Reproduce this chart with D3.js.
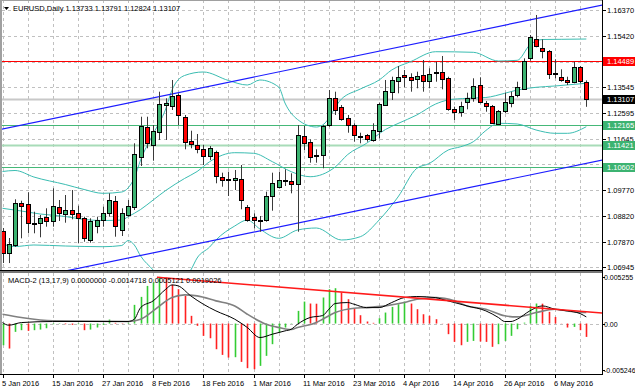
<!DOCTYPE html>
<html>
<head>
<meta charset="utf-8">
<script src="https://cdn.jsdelivr.net/npm/d3@7"></script>
<style>
  body { margin: 0; background: #fff; }
  svg { display: block; font-family: "Liberation Sans", Arial, sans-serif; font-size: 7.5px; }
</style>
</head>
<body>
<svg id="chart" width="635" height="391"></svg>
<script>
// EURUSD daily candles, bar 0 = 5 Jan 2016, bar 93 = 13 May 2016
const open  = [1.08285,1.07480,1.07762,1.09311,1.09252,1.08556,1.08556,1.08776,1.08652,1.09154,
  1.08897,1.09044,1.08923,1.08740,1.07945,1.08469,1.08652,1.08923,1.09373,1.08311,
  1.08861,1.09165,1.10996,1.12095,1.11425,1.11912,1.12890,1.12864,1.13256,1.12461,
  1.11571,1.11425,1.11267,1.10996,1.11157,1.10263,1.10168,1.10143,1.10168,1.09165,
  1.08776,1.08677,1.08677,1.09531,1.09897,1.10117,1.10106,1.09996,1.11765,1.11545,
  1.11033,1.11058,1.12157,1.13135,1.12806,1.12403,1.12157,1.11765,1.11791,1.11608,
  1.11948,1.12890,1.13377,1.13780,1.13978,1.13926,1.13853,1.13989,1.13780,1.14110,
  1.14110,1.13868,1.12743,1.12644,1.13011,1.13135,1.13622,1.12974,1.12853,1.12194,
  1.12644,1.12974,1.13256,1.13502,1.14600,1.15296,1.14989,1.14868,1.14051,1.13926,
  1.13806,1.13721,1.14271,1.13733];
const high  = [1.08384,1.08018,1.09436,1.09384,1.09692,1.08981,1.08861,1.09106,1.09839,1.09410,
  1.09593,1.09776,1.09201,1.08798,1.08740,1.08798,1.09165,1.09655,1.09557,1.09106,
  1.09410,1.11487,1.12461,1.12461,1.12157,1.13377,1.13135,1.13806,1.13318,1.12524,
  1.11948,1.11828,1.11425,1.11388,1.11216,1.10410,1.10447,1.10509,1.10692,1.09227,
  1.08923,1.08824,1.09714,1.10410,1.10447,1.10535,1.10388,1.12157,1.12121,1.11633,
  1.11267,1.12157,1.13439,1.13377,1.12890,1.12524,1.12220,1.11875,1.11828,1.12220,
  1.12974,1.13806,1.13926,1.14318,1.14172,1.14051,1.14110,1.14538,1.14234,1.14476,
  1.14685,1.13926,1.12828,1.13011,1.13340,1.13868,1.13905,1.13036,1.12890,1.12707,
  1.13340,1.13377,1.13743,1.14600,1.15454,1.16187,1.15296,1.14904,1.14564,1.14198,
  1.13926,1.14476,1.14318,1.13791];
const low   = [1.07102,1.07100,1.07688,1.08007,1.08190,1.08190,1.08044,1.08432,1.08432,1.08641,
  1.08579,1.08703,1.07824,1.07883,1.07846,1.08190,1.08432,1.08798,1.08066,1.08091,
  1.08798,1.09044,1.10655,1.11304,1.10850,1.11608,1.11608,1.12707,1.12157,1.11267,
  1.11304,1.11121,1.10692,1.10875,1.10022,1.09897,1.09557,1.09776,1.09069,1.08615,
  1.08373,1.08249,1.08615,1.09018,1.09839,1.09923,1.09655,1.08249,1.11241,1.10776,
  1.10776,1.10571,1.12095,1.12524,1.12315,1.11875,1.11545,1.11487,1.11545,1.11545,
  1.11670,1.12853,1.13073,1.13318,1.13538,1.13377,1.13502,1.13377,1.13502,1.13743,
  1.13465,1.12681,1.12340,1.12461,1.12732,1.13011,1.12952,1.12644,1.12194,1.12157,
  1.12586,1.12806,1.13172,1.13465,1.14513,1.15003,1.14600,1.13842,1.13868,1.13743,
  1.13622,1.13685,1.13685,1.12824];
const close = [1.07480,1.07798,1.09289,1.09201,1.08556,1.08568,1.08740,1.08615,1.09190,1.08923,
  1.09044,1.08897,1.08740,1.08007,1.08652,1.08677,1.08923,1.09410,1.08458,1.08923,
  1.09201,1.11095,1.12121,1.11509,1.11948,1.12926,1.12974,1.13220,1.12524,1.11545,
  1.11461,1.11289,1.11022,1.11304,1.10289,1.10168,1.10160,1.10205,1.09410,1.08703,
  1.08677,1.08660,1.09567,1.10022,1.10143,1.10130,1.09996,1.11791,1.11524,1.10996,
  1.11058,1.12121,1.13135,1.12681,1.12366,1.12157,1.11791,1.11750,1.11633,1.11974,
  1.12926,1.13414,1.13806,1.13926,1.13890,1.13831,1.13963,1.13780,1.14025,1.14100,
  1.13868,1.12732,1.12622,1.12853,1.13157,1.13586,1.12989,1.12853,1.12220,1.12670,
  1.12989,1.13220,1.13538,1.14513,1.15370,1.15025,1.14868,1.14025,1.14040,1.13831,
  1.13721,1.14271,1.13743,1.13107];

// Bollinger bands: [bar, price]
const bbUpper = [[0,1.10454],[2,1.10491],[5,1.10252],[10,1.09978],[13,1.09795],[16,1.09655],[19,1.09703],
  [20,1.09850],[21,1.10216],[22,1.10875],[24,1.11828],[26,1.12743],[27,1.13439],[29,1.13970],[32,1.14099],
  [36,1.13787],[39,1.13622],[41,1.13806],[44,1.13549],[45,1.12963],[47,1.12359],[50,1.12084],[51,1.12157],
  [54,1.13110],[57,1.13476],[60,1.13806],[62,1.14172],[65,1.14476],[69,1.14842],[75,1.14820],[79,1.14502],
  [82,1.14527],[84,1.15088],[86,1.15289],[89,1.15296],[93,1.15307]];
const bbMiddle = [[0,1.09106],[3,1.09007],[6,1.08897],[10,1.08806],[13,1.08696],[16,1.08659],[19,1.08677],
  [20,1.08798],[22,1.09062],[24,1.09410],[26,1.09758],[29,1.10198],[31,1.10454],[33,1.10813],[37,1.11143],
  [40,1.11121],[43,1.10813],[46,1.10447],[49,1.10263],[53,1.10619],[55,1.11077],[58,1.11487],[61,1.11992],
  [63,1.12212],[66,1.12524],[69,1.12926],[71,1.13073],[74,1.13135],[77,1.13165],[80,1.13318],[82,1.13439],
  [85,1.13538],[88,1.13586],[93,1.13685]];
const bbLower = [[0,1.07798],[2,1.07707],[5,1.07762],[10,1.07725],[16,1.07699],[19,1.07743],[20,1.07926],
  [21,1.07762],[22,1.07359],[24,1.06846],[26,1.06296],[28,1.06406],[30,1.06846],[31,1.07285],[33,1.07688],
  [34,1.07945],[37,1.08458],[39,1.08677],[41,1.08348],[44,1.08007],[47,1.08311],[50,1.08384],[54,1.07945],
  [57,1.08066],[60,1.08677],[63,1.09520],[66,1.10571],[68,1.10747],[71,1.11241],[73,1.11362],[75,1.11545],
  [77,1.11956],[79,1.12220],[82,1.12194],[85,1.11974],[88,1.11853],[90,1.11853],[93,1.12095]];

// regression channel borders: [bar, price]
const channelUpper = [[-1,1.11963],[96,1.16575]];
const channelLower = [[-1,1.06285],[96,1.10897]];

// horizontal levels
const redLevel = 1.14489;
const greenLevels = [1.12165, 1.10602];
const paleLevel = 1.11421;
const lastPrice = 1.13107;

const priceTicks = [1.16370,1.15420,1.14470,1.13545,1.12595,1.11645,1.10720,1.09770,1.08820,1.07870,1.06945];
const dateLabels = ["5 Jan 2016","15 Jan 2016","27 Jan 2016","8 Feb 2016","18 Feb 2016","1 Mar 2016",
  "11 Mar 2016","23 Mar 2016","4 Apr 2016","14 Apr 2016","26 Apr 2016","6 May 2016"];
const dateBars = [0,8,16,24,32,40,48,56,64,72,80,88];

// MACD-2 (13,17,9)
const macdHist = [-0.00245,-0.00282,-0.00094,-0.00075,-0.00083,-0.00075,-0.00068,-0.00053,-0.00008,-0.00004,
  -0.00008,-0.00015,-0.00008,-0.00075,-0.00068,-0.00045,-0.00015,0.00045,0.00008,0.00004,
  0.00008,0.00211,0.00301,0.00425,0.00463,0.00527,0.00519,0.00437,0.00388,0.00312,
  0.00087,-0.00026,-0.00139,-0.00166,-0.00290,-0.00354,-0.00384,-0.00380,-0.00433,-0.00504,
  -0.00516,-0.00478,-0.00365,-0.00233,-0.00102,-0.00045,-0.00004,0.00143,0.00248,0.00226,
  0.00224,0.00294,0.00388,0.00399,0.00350,0.00275,0.00173,0.00094,0.00023,0.00008,
  0.00060,0.00124,0.00188,0.00218,0.00248,0.00226,0.00162,0.00105,0.00087,0.00049,
  0.00002,-0.00120,-0.00207,-0.00245,-0.00207,-0.00196,-0.00203,-0.00207,-0.00263,-0.00233,
  -0.00196,-0.00139,-0.00064,0.00010,0.00199,0.00226,0.00224,0.00132,0.00075,0.00002,
  -0.00045,-0.00038,-0.00075,-0.00151];
const macdMain = [[0,0.00011],[1,-0.00019],[3,0.00011],[8,0.00023],[20,0.00023],[21,0.00049],[22,0.00180],
  [24,0.00256],[26,0.00387],[27,0.00436],[28,0.00425],[30,0.00312],[32,0.00218],[34,0.00143],[37,0.00049],
  [39,-0.00045],[41,-0.00158],[43,-0.00120],[45,-0.00083],[46,-0.00064],[47,-0.00008],[49,0.00068],
  [51,0.00090],[52,0.00162],[53,0.00226],[55,0.00237],[56,0.00218],[58,0.00180],[60,0.00180],[62,0.00237],
  [64,0.00293],[66,0.00305],[69,0.00293],[70,0.00274],[72,0.00237],[74,0.00199],[77,0.00143],[79,0.00068],
  [80,0.00023],[81,0.00023],[82,0.00049],[84,0.00143],[86,0.00199],[88,0.00162],[90,0.00143],[92,0.00113],
  [93,0.00075]];
const macdSignal = [[0,0.00105],[3,0.00068],[8,0.00030],[20,0.00023],[22,0.00049],[24,0.00143],[27,0.00293],
  [29,0.00324],[31,0.00312],[34,0.00256],[37,0.00199],[39,0.00105],[42,-0.00008],[44,-0.00045],[46,-0.00068],
  [47,-0.00045],[50,0.00011],[51,0.00049],[53,0.00124],[56,0.00173],[58,0.00180],[61,0.00199],[64,0.00237],
  [66,0.00274],[69,0.00293],[72,0.00256],[74,0.00199],[77,0.00162],[80,0.00087],[82,0.00075],[85,0.00124],
  [88,0.00162],[90,0.00143],[92,0.00124],[93,0.00124]];
const macdTrend = [[24.6,0.00522],[95.5,0.00119]];
const macdTicks = ["0.005255","0.00","-0.005246"];
const macdTickValues = [0.005255, 0, -0.005246];

const title = "EURUSD,Daily 1.13733 1.13791 1.12824 1.13107";
const macdTitle = "MACD-2 (13,17,9) 0.0000000 -0.0014718 0.0005121 0.0019026";

// layout
const plotRight = 602;
const mainBottom = 270;
const macdTop = 273, macdBottom = 374;

const svg = d3.select('#chart');

const x = d3.scaleLinear().domain([0, 93]).range([2.5, 586.3]);
const y = d3.scaleLinear().domain([1.06846, 1.16736]).range([mainBottom, 0]);
const ym = d3.scaleLinear().domain([-0.005246, 0.005255]).range([370, 277]);
const px = i => Math.round(x(i));

const defs = svg.append('defs');
defs.append('clipPath').attr('id', 'clipMain')
  .append('rect').attr('x', 2).attr('y', 0).attr('width', plotRight - 2).attr('height', mainBottom);
defs.append('clipPath').attr('id', 'clipMacd')
  .append('rect').attr('x', 2).attr('y', macdTop).attr('width', plotRight - 2).attr('height', macdBottom - macdTop);

// grid
const grid = svg.append('g').attr('stroke', '#c0c0c0').attr('stroke-dasharray', '3,3');
d3.range(0, 94, 4).forEach(i => {
  grid.append('line').attr('x1', px(i) + 0.5).attr('x2', px(i) + 0.5).attr('y1', 0).attr('y2', mainBottom);
  grid.append('line').attr('x1', px(i) + 0.5).attr('x2', px(i) + 0.5).attr('y1', macdTop).attr('y2', macdBottom);
});
priceTicks.forEach(p => {
  const yy = Math.round(y(p)) + 0.5;
  grid.append('line').attr('x1', 2).attr('x2', plotRight).attr('y1', yy).attr('y2', yy);
});
grid.append('line').attr('x1', 2).attr('x2', plotRight)
  .attr('y1', Math.round(ym(0)) + 0.5).attr('y2', Math.round(ym(0)) + 0.5);

// main panel content
const main = svg.append('g').attr('clip-path', 'url(#clipMain)');

const hline = (p, color, w) => {
  const yy = Math.round(y(p)) + 0.5;
  main.append('line').attr('x1', 0).attr('x2', plotRight).attr('y1', yy).attr('y2', yy)
    .attr('stroke', color).attr('stroke-width', w);
};
hline(lastPrice, '#c8c8c8', 2);
hline(paleLevel, '#a8dcb8', 2);
greenLevels.forEach(p => hline(p, '#45b878', 1));
hline(redLevel, '#ff0000', 1);

const line = d3.line().x(d => x(d[0])).y(d => y(d[1]));
const curve = d3.line().x(d => x(d[0])).y(d => y(d[1])).curve(d3.curveMonotoneX);

[bbUpper, bbMiddle, bbLower].forEach(b => {
  main.append('path').attr('d', curve(b)).attr('fill', 'none')
    .attr('stroke', '#3bbdb2').attr('stroke-width', 1);
});
[channelUpper, channelLower].forEach(c => {
  main.append('path').attr('d', line(c)).attr('fill', 'none')
    .attr('stroke', '#1c1cff').attr('stroke-width', 1.2);
});

const bars = d3.range(open.length);
main.selectAll('line.wick').data(bars).join('line')
  .attr('class', 'wick')
  .attr('x1', i => px(i) + 0.5).attr('x2', i => px(i) + 0.5)
  .attr('y1', i => y(high[i])).attr('y2', i => y(low[i]))
  .attr('stroke', '#3a3a3a').attr('stroke-width', 1);
main.selectAll('rect.body').data(bars).join('rect')
  .attr('class', 'body')
  .attr('x', i => px(i) - 1.5).attr('width', 4)
  .attr('y', i => Math.round(y(Math.max(open[i], close[i]))) + 0.5)
  .attr('height', i => Math.max(1, Math.round(Math.abs(y(open[i]) - y(close[i])))))
  .attr('fill', i => close[i] >= open[i] ? '#3cb371' : '#ff0000')
  .attr('stroke', '#000').attr('stroke-width', 1);

// MACD panel
const macd = svg.append('g').attr('clip-path', 'url(#clipMacd)');
macd.selectAll('line.hist').data(bars).join('line')
  .attr('class', 'hist')
  .attr('x1', i => px(i) + 0.5).attr('x2', i => px(i) + 0.5)
  .attr('y1', ym(0)).attr('y2', i => ym(macdHist[i]))
  .attr('stroke', i => (i === 0 || macdHist[i] > macdHist[i - 1]) ? '#33cc33' : '#ff2020')
  .attr('stroke-width', 1.6);

const mline = d3.line().x(d => x(d[0])).y(d => ym(d[1])).curve(d3.curveMonotoneX);
macd.append('path').attr('d', mline(macdSignal)).attr('fill', 'none')
  .attr('stroke', '#808080').attr('stroke-width', 1.6);
macd.append('path').attr('d', mline(macdMain)).attr('fill', 'none')
  .attr('stroke', '#000').attr('stroke-width', 1);
macd.append('path').attr('d', d3.line().x(d => x(d[0])).y(d => ym(d[1]))(macdTrend))
  .attr('fill', 'none').attr('stroke', '#ff1a1a').attr('stroke-width', 1.5);

// frames
svg.append('rect').attr('x', 0).attr('y', 0).attr('width', 2).attr('height', macdBottom).attr('fill', '#a0a0a0');
svg.append('line').attr('x1', 0).attr('x2', plotRight).attr('y1', 0.5).attr('y2', 0.5).attr('stroke', '#a0a0a0');
svg.append('rect').attr('x', 0).attr('y', mainBottom).attr('width', plotRight + 1).attr('height', 3).attr('fill', '#777');
svg.append('line').attr('x1', 0).attr('x2', plotRight + 1).attr('y1', mainBottom + 0.5).attr('y2', mainBottom + 0.5).attr('stroke', '#000');
svg.append('line').attr('x1', 0).attr('x2', plotRight + 1).attr('y1', macdBottom + 0.5).attr('y2', macdBottom + 0.5).attr('stroke', '#000');
svg.append('line').attr('x1', plotRight + 0.5).attr('x2', plotRight + 0.5).attr('y1', 0).attr('y2', macdBottom + 1).attr('stroke', '#000');

// price axis; labels sitting under a level tag are left out
const tagged = [redLevel, lastPrice, paleLevel, ...greenLevels];
const axisG = svg.append('g');
priceTicks.forEach(p => {
  const yy = Math.round(y(p)) + 0.5;
  axisG.append('line').attr('x1', plotRight).attr('x2', plotRight + 4).attr('y1', yy).attr('y2', yy).attr('stroke', '#000');
  if (tagged.some(t => Math.abs(y(t) - y(p)) < 5)) return;
  axisG.append('text').attr('x', 607).attr('y', yy).attr('dy', '0.35em').text(p.toFixed(5));
});
const tag = (p, bg) => {
  const yy = Math.round(y(p));
  axisG.append('rect').attr('x', plotRight + 1).attr('y', yy - 4).attr('width', 33).attr('height', 9).attr('fill', bg);
  axisG.append('text').attr('x', 607).attr('y', yy + 0.5).attr('dy', '0.35em').attr('fill', '#fff').text(p.toFixed(5));
};
tag(redLevel, '#ff0000');
tag(lastPrice, '#000');
greenLevels.forEach(p => tag(p, '#3cb371'));
tag(paleLevel, '#3cb371');

// MACD axis
macdTickValues.forEach((v, k) => {
  const yy = Math.round(ym(v)) + 0.5;
  axisG.append('line').attr('x1', plotRight).attr('x2', plotRight + 3).attr('y1', yy).attr('y2', yy).attr('stroke', '#000');
  axisG.append('text').attr('x', 604).attr('y', yy).attr('dy', '0.35em')
    .style('font-size', '7px').text(macdTicks[k]);
});

// time axis
dateBars.forEach((b, k) => {
  axisG.append('line').attr('x1', px(b) + 0.5).attr('x2', px(b) + 0.5)
    .attr('y1', macdBottom).attr('y2', macdBottom + 4).attr('stroke', '#000');
  axisG.append('text').attr('x', px(b) - 1).attr('y', 386).text(dateLabels[k]);
});

// titles
svg.append('path').attr('d', 'M4,7 L9,7 L6.5,10 Z').attr('fill', '#000');
svg.append('text').attr('x', 13).attr('y', 11).text(title);
svg.append('text').attr('x', 8).attr('y', 283).text(macdTitle);
</script>
</body>
</html>
